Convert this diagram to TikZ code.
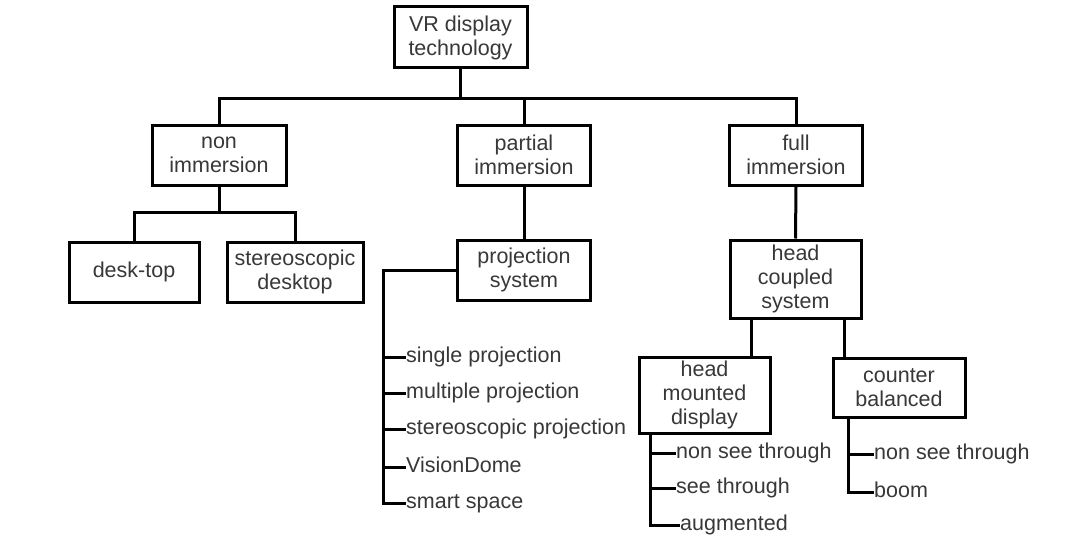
\documentclass[tikz,border=0pt]{standalone}
\usepackage{fontspec}
\setmainfont{Liberation Sans}
\usetikzlibrary{calc}
\tikzset{
  box/.style={draw=black, line width=3pt, rectangle, inner sep=0pt, align=center,
    text=black!78, font=\fontsize{21.5}{24}\selectfont},
  item/.style={anchor=west, inner sep=0pt, text height=15.5pt, text depth=5pt,
    text=black!78, font=\fontsize{21.5}{24}\selectfont},
  link/.style={draw=black, line width=3pt, line join=miter},
}
\begin{document}
\begin{tikzpicture}[x=1pt, y=-1pt]
  \useasboundingbox[fill=white] (0,0) rectangle (1082,535);

  % boxes
  \node[box, minimum width=133pt, minimum height=61pt] (root) at (460.5,37.5) {VR display\\technology};
  \node[box, minimum width=134pt, minimum height=60pt] (non) at (219,155) {non\\immersion};
  \node[box, minimum width=133pt, minimum height=60pt] (partial) at (524,155) {partial\\immersion};
  \node[box, minimum width=133pt, minimum height=60pt] (full) at (796,155) {full\\immersion};
  \node[box, minimum width=130pt, minimum height=60pt] (desk) at (134,272) {desk-top};
  \node[box, minimum width=136pt, minimum height=60pt] (sdesk) at (295,272) {stereoscopic\\desktop};
  \node[box, minimum width=133pt, minimum height=60pt] (proj) at (524,270) {projection\\system};
  \node[box, minimum width=131pt, minimum height=78pt] (hcs) at (795.5,279) {head\\coupled\\system};
  \node[box, minimum width=131pt, minimum height=76pt] (hmd) at (704.5,395) {head\\mounted\\display};
  \node[box, minimum width=132pt, minimum height=59pt] (cb) at (899,387.5) {counter\\balanced};

  % top level bus
  \coordinate (bus) at (0,98);
  \draw[link] (root.south) -- (root.south |- bus);
  \draw[link] (non.north) -- (non.north |- bus) -- (full.north |- bus) -- (full.north);
  \draw[link] (partial.north) -- (partial.north |- bus);

  % non immersion branch
  \coordinate (nbus) at (0,212);
  \draw[link] (non.south) -- (non.south |- nbus);
  \draw[link] (desk.north) -- (desk.north |- nbus) -- (sdesk.north |- nbus) -- (sdesk.north);

  % partial and full immersion
  \draw[link] (partial.south) -- (proj.north);
  \draw[link] (full.south) -- (hcs.north);
  \draw[link] ([xshift=23pt]hcs.south west) -- ([xshift=23pt]hcs.south west |- hmd.north);
  \draw[link] ([xshift=-18pt]hcs.south east) -- ([xshift=-18pt]hcs.south east |- cb.north);

  % projection system list
  \node[item] (p1) at (406,357) {single projection};
  \node[item] (p2) at (406,393) {multiple projection};
  \node[item] (p3) at (406,429) {stereoscopic projection};
  \node[item] (p4) at (406,467) {VisionDome};
  \node[item] (p5) at (406,503) {smart space};
  \coordinate (ps) at (383,270);
  \draw[link] (proj.west) -- (ps) |- (p5.west);
  \foreach \i in {1,...,4} \draw[link] (ps |- p\i.west) -- (p\i.west);

  % head mounted display list
  \node[item] (h1) at (676,453) {non see through};
  \node[item] (h2) at (676,488) {see through};
  \node[item] (h3) at (680,525) {augmented};
  \coordinate (hs) at ([xshift=13pt]hmd.south west);
  \draw[link] (hs) |- (h3.west);
  \foreach \i in {1,2} \draw[link] (hs |- h\i.west) -- (h\i.west);

  % counter balanced list
  \node[item] (c1) at (874,454) {non see through};
  \node[item] (c2) at (874,492) {boom};
  \coordinate (cs) at ([xshift=17pt]cb.south west);
  \draw[link] (cs) |- (c2.west);
  \draw[link] (cs |- c1.west) -- (c1.west);
\end{tikzpicture}
\end{document}
